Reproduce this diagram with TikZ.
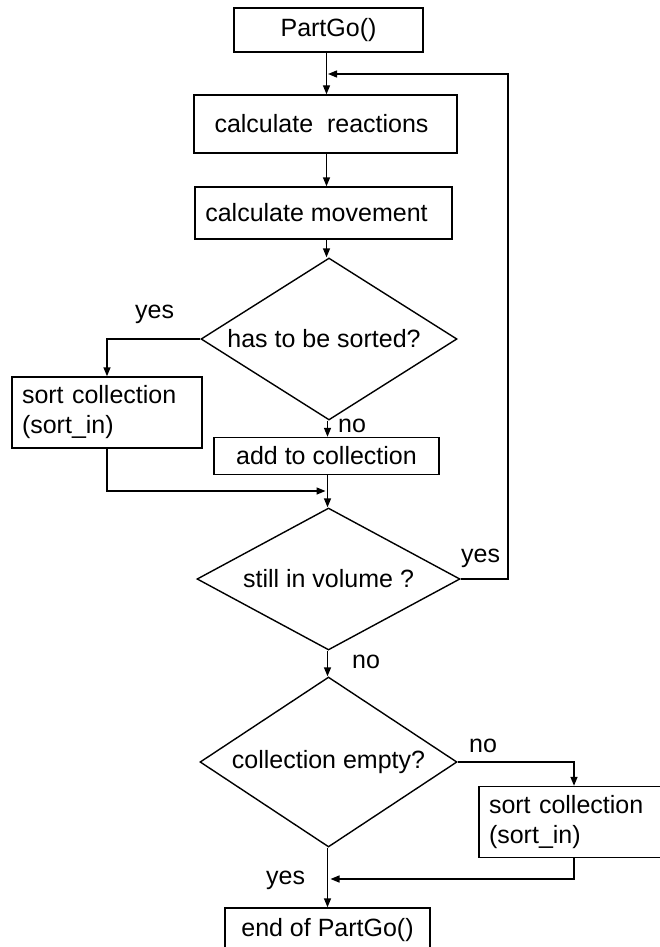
\documentclass[tikz,border=0pt]{standalone}
\usepackage{fontspec}
\setmainfont{Liberation Sans}
\usetikzlibrary{shapes.geometric,arrows.meta}
\begin{document}
\begin{tikzpicture}[x=1pt,y=-1pt,
  every node/.style={font=\fontsize{25}{30}\selectfont},
  proc/.style={draw, line width=1.4pt, inner sep=0pt, align=center},
  sortbox/.style={draw, line width=1.4pt, align=left, text width=170pt, inner xsep=10pt, inner ysep=0pt, minimum height=71pt},
  dec/.style={draw, line width=1.4pt, diamond, inner sep=0pt},
  lbl/.style={anchor=base west, inner sep=0pt},
  arr/.style={line width=1.4pt, -{Triangle[length=9pt,width=7pt]}}
]
\path[use as bounding box, fill=white] (0,0) rectangle (659,947);

\node[proc, minimum width=189pt, minimum height=44pt] (start) at (328.5,30) {PartGo()};
\node[proc, minimum width=263pt, minimum height=58pt] (react) at (325.5,124) {calculate\ \ reactions\hspace*{8pt}};
\node[proc, minimum width=257pt, minimum height=52pt] (move) at (323.5,213) {calculate movement\hspace*{14pt}};
\node[dec, minimum width=256pt, minimum height=162pt, aspect=1.6] (d1) at (329,339) {has to be sorted?\hspace*{10pt}};
\node[sortbox] (sort1) at (107,412.5) {sort collection\\(sort\_in)};
\node[proc, minimum width=225pt, minimum height=37pt] (add) at (326.5,456) {add to collection};
\node[dec, minimum width=263pt, minimum height=142pt, aspect=1.85] (d2) at (328.5,579) {still in volume ?};
\node[dec, minimum width=257pt, minimum height=170pt, aspect=1.53] (d3) at (328.5,762) {collection empty?};
\node[sortbox] (sort2) at (574,822) {sort collection\\(sort\_in)};
\node[proc, minimum width=205pt, minimum height=44pt] (end) at (327.5,930) {end of PartGo()};

\node[lbl] (y1) at (135,318) {yes};
\node[lbl] (n1) at (338,432) {no};
\node[lbl] (y2) at (461,562) {yes};
\node[lbl] (n2) at (352,668) {no};
\node[lbl] (n3) at (469,752) {no};
\node[lbl] (y3) at (266,884) {yes};

\coordinate (ax) at (326.5,0);
\coordinate (ax2) at (327.5,0);
\coordinate (lp) at (508,0);
\coordinate (m1) at (325.5,491);
\coordinate (m2) at (328,74);
\coordinate (m3) at (330.5,879);

\draw[arr] (ax |- start.south) -- (ax |- react.north);
\draw[arr] (ax |- react.south) -- (ax |- move.north);
\draw[arr] (ax |- move.south) -- (ax |- d1.north);
\draw[arr] (d1.west) -| (sort1.north);
\draw[arr] (ax2 |- d1.south) -- (ax2 |- add.north);
\draw[arr] (sort1.south) |- (m1);
\draw[arr] (ax2 |- add.south) -- (ax2 |- d2.north);
\draw[arr] (d2.east) -- (lp |- d2.east) |- (m2);
\draw[arr] (ax2 |- d2.south) -- (ax2 |- d3.north);
\draw[arr] (d3.east) -| (sort2.north);
\draw[arr] (ax2 |- d3.south) -- (ax2 |- end.north);
\draw[arr] (sort2.south) |- (m3);
\end{tikzpicture}
\end{document}
